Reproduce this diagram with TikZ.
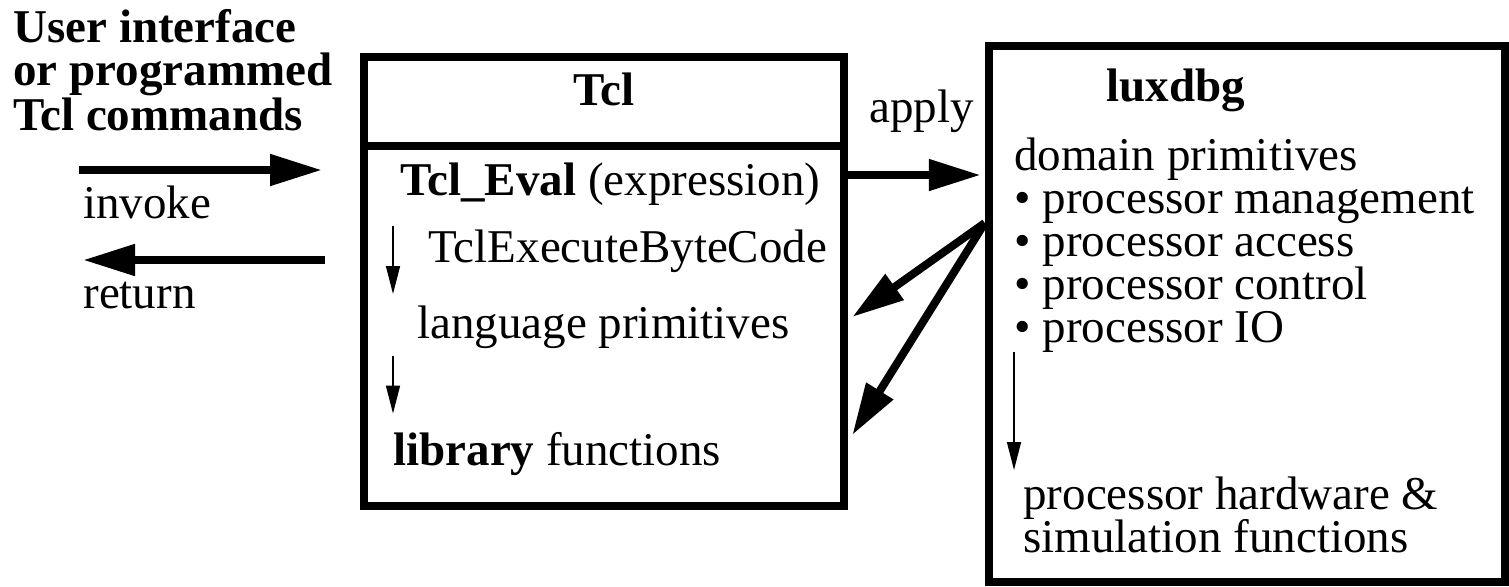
\documentclass[tikz,border=0pt]{standalone}
\usepackage{fontspec}
\setmainfont{Liberation Serif}
\usetikzlibrary{arrows.meta,calc}
\newcommand\figfont{\fontsize{23.5}{21.5}\selectfont}

\begin{document}
\begin{tikzpicture}[x=0.5pt,y=-0.5pt,
    every node/.style={inner sep=0pt,font=\figfont},
    txt/.style={anchor=base west},
    title/.style={font=\figfont\bfseries},
    box/.style={draw,line width=4.25pt},
    bigarrow/.style={line width=4pt,-{Triangle[length=26pt,width=15pt]}},
    smallarrow/.style={line width=0.75pt,-{Triangle[length=14pt,width=7pt]}}]
\useasboundingbox (0,0) rectangle (1509,586);

% caller side
\node[title,txt] (ui1) at (13,42) {User interface};
\node[title,txt] (ui2) at (13,85) {or programmed};
\node[title,txt] (ui3) at (13,130) {Tcl commands};
\coordinate (invokestart) at (79,170);
\coordinate (invokeend) at (322,170);
\draw[bigarrow] (invokestart) -- (invokeend);
\node[txt] (invoke) at (83,218) {invoke};
\coordinate (returnstart) at (325,260);
\coordinate (returnend) at (83,260);
\draw[bigarrow] (returnstart) -- (returnend);
\node[txt] (return) at (83,308) {return};

% Tcl box
\node[box,minimum width=240pt,minimum height=224.5pt] (tcl) at (604,281.5) {};
\draw[line width=4.25pt] (tcl.west |- 0,146) -- (tcl.east |- 0,146);
\node[title,anchor=base] (tcltitle) at (604,105) {Tcl};
\node[txt] (eval) at (400,195) {\textbf{Tcl\_Eval} (expression)};
\node[txt] (bytecode) at (428,262) {TclExecuteByteCode};
\node[txt] (langprim) at (417,338) {language primitives};
\node[txt] (libfunc) at (393,465) {\textbf{library} functions};
\draw[smallarrow,shorten <=-1.5pt,shorten >=5.5pt] (libfunc.west |- bytecode.north) -- (libfunc.west |- langprim.north);
\draw[smallarrow,shorten <=3.5pt,shorten >=9pt] (libfunc.west |- langprim.south) -- (libfunc.west |- libfunc.north);

% luxdbg box
\node[box,minimum width=258pt,minimum height=268pt] (lux) at (1247,314) {};
\node[title,anchor=base] (luxtitle) at (1176,101) {luxdbg};
\node[txt] (domain) at (1014,170) {domain primitives};
\node[txt] (mgmt) at (1014,213) {\textbullet{} processor management};
\node[txt] (access) at (1014,256) {\textbullet{} processor access};
\node[txt] (control) at (1014,299) {\textbullet{} processor control};
\node[txt] (io) at (1014,342) {\textbullet{} processor IO};
\node[txt] (hw) at (1023,509) {processor hardware \&};
\node[txt] (sim) at (1023,552) {simulation functions};
\draw[smallarrow,shorten >=3pt] (io.south west) -- (io.west |- hw.north);

% calls between the boxes
\node[txt] (apply) at (869,122) {apply};
\draw[bigarrow,shorten >=2pt] (tcl.east |- 0,175) -- (lux.west |- 0,175);
\coordinate (fan) at (lux.west |- 0,223);
\draw[bigarrow] (fan) -- ($(tcl.east |- 0,317)+(4,0)$);
\draw[bigarrow] (fan) -- ($(tcl.east |- 0,435)+(4,0)$);
\end{tikzpicture}
\end{document}
